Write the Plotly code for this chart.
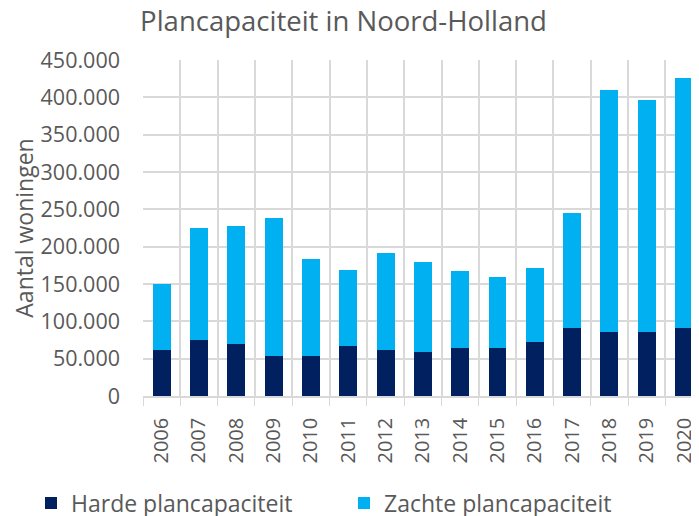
import plotly.graph_objects as go

years = ["2006", "2007", "2008", "2009", "2010", "2011", "2012", "2013",
         "2014", "2015", "2016", "2017", "2018", "2019", "2020"]
harde = [61000, 75000, 70000, 54000, 54000, 67000, 62000, 59000,
         64000, 64000, 72000, 91000, 86000, 86000, 91000]
zachte = [89000, 150000, 158000, 185000, 129000, 102000, 129000, 121000,
          103000, 95000, 100000, 154000, 324000, 310000, 335000]
y_ticks = [0, 50000, 100000, 150000, 200000, 250000, 300000, 350000, 400000, 450000]

# The page body has an 8px default margin; size the figure so it fills the window.
OFF = 8
W, H = 699 - OFF, 516 - OFF
FONT = "Open Sans"
GRAY = "#595959"
GRID = "#D9D9D9"

fig = go.Figure()
fig.add_trace(go.Bar(x=years, y=harde, name="Harde plancapaciteit",
                     marker=dict(color="#00205F", line=dict(width=0)),
                     legend="legend"))
fig.add_trace(go.Bar(x=years, y=zachte, name="Zachte plancapaciteit",
                     marker=dict(color="#00B0F0", line=dict(width=0)),
                     legend="legend2"))

legend_common = dict(orientation="h", xanchor="left", xref="container",
                     y=(516 - 503) / H, yanchor="middle", yref="container",
                     font=dict(family=FONT, size=23, color=GRAY),
                     bgcolor="rgba(0,0,0,0)")

fig.update_layout(
    width=W, height=H,
    barmode="stack", bargap=0.52,
    separators=",.",
    paper_bgcolor="white", plot_bgcolor="white",
    margin=dict(l=143 - OFF, r=0, t=60 - OFF, b=120, autoexpand=False),
    font=dict(family=FONT, color=GRAY),
    title=dict(text="Plancapaciteit in Noord-Holland",
               font=dict(family=FONT, size=27.5, color=GRAY),
               x=(343.5 - OFF) / W, xanchor="center",
               y=1 - (21 - OFF) / H, yanchor="middle"),
    showlegend=True,
    legend=dict(x=(31 - OFF) / W, **legend_common),
    legend2=dict(x=(344 - OFF) / W, **legend_common),
)

fig.update_xaxes(
    type="category", range=[-0.5, 14.4], automargin=False,
    tickson="boundaries", ticks="outside", ticklen=8, tickcolor=GRID,
    showgrid=True, gridcolor=GRID, gridwidth=1.5,
    showline=True, linecolor=GRID, linewidth=1.5,
    tickangle=-90, tickfont=dict(family=FONT, size=20, color=GRAY),
    ticklabelstandoff=12,
)
fig.update_yaxes(
    range=[0, 450000], tickvals=y_ticks, tickformat=",.0f", automargin=False,
    showgrid=True, gridcolor=GRID, gridwidth=1.5,
    zeroline=False, showline=False, ticks="",
    tickfont=dict(family=FONT, size=21.5, color=GRAY),
    ticklabelstandoff=22,
    title=dict(text="Aantal woningen", font=dict(family=FONT, size=23, color=GRAY),
               standoff=2),
)

fig.write_html("out.html")
